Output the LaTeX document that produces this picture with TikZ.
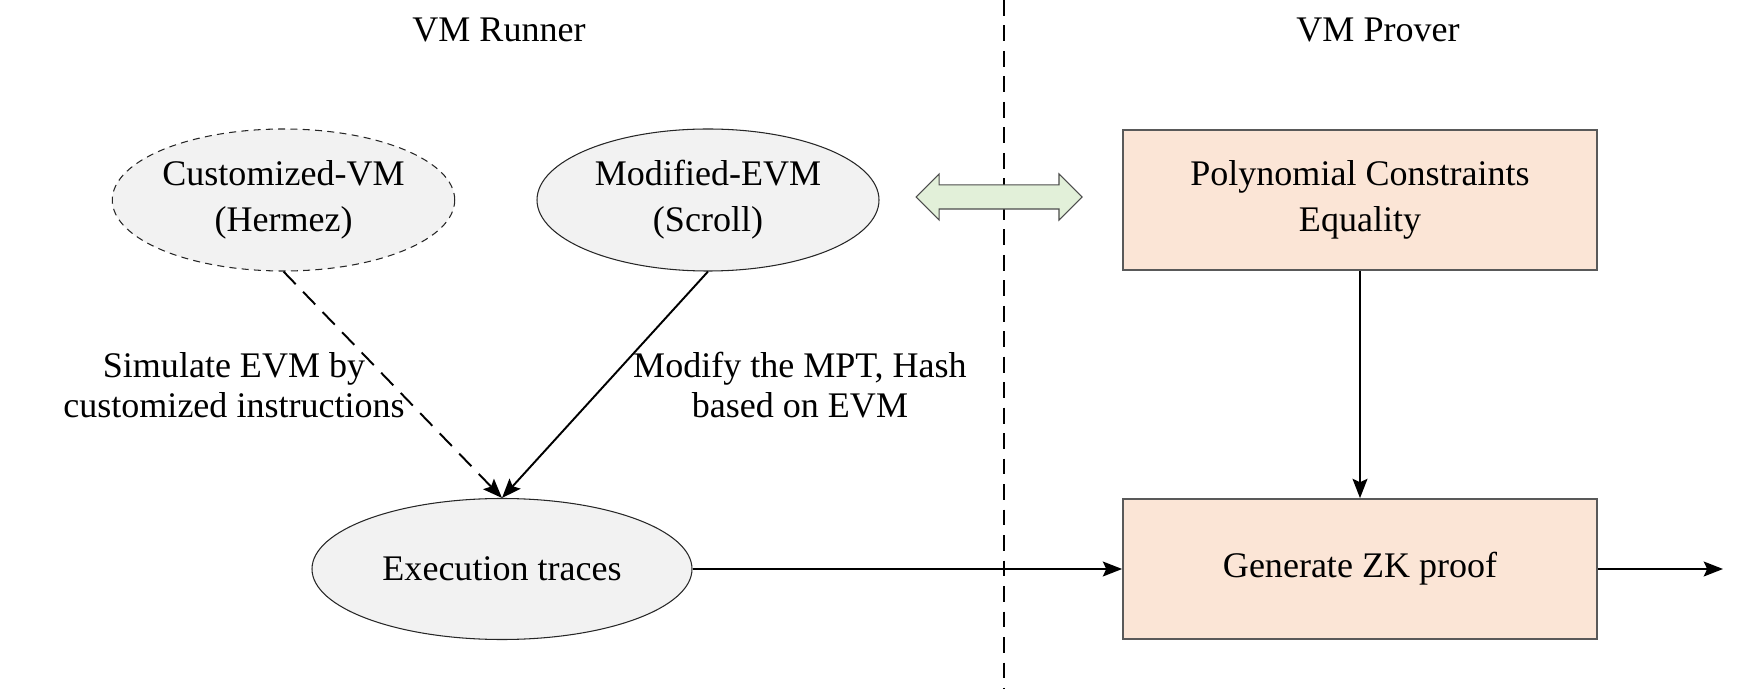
\documentclass[tikz,border=0pt]{standalone}
\usepackage{fontspec}
\setmainfont{Liberation Serif}
\usepackage{xcolor}
\usepackage{tikz}
\usetikzlibrary{shapes.geometric,shapes.arrows,arrows.meta}

\definecolor{vmgray}{HTML}{F2F2F2}
\definecolor{prvpeach}{HTML}{FBE5D6}
\definecolor{lnkgreen}{HTML}{E2F0D9}
\definecolor{boxline}{HTML}{595959}

\tikzset{
  vmell/.style={ellipse, draw=black!85, line width=0.6pt, fill=vmgray,
    minimum width=6.84cm, minimum height=2.84cm, inner sep=0pt, align=center},
  prvbox/.style={rectangle, draw=boxline, line width=1pt, fill=prvpeach,
    minimum width=9.48cm, minimum height=2.8cm, align=center},
  flow/.style={line width=1.1pt, -{Stealth[length=11pt,width=8.5pt,inset=2pt]}},
}

\begin{document}
\begin{tikzpicture}[font=\fontsize{20.5pt}{23pt}\selectfont]
                \useasboundingbox (0,0) rectangle (35.14,13.94);
                % two halves
                \coordinate (sepT) at (20.08,13.94);
                \coordinate (sepB) at (20.08,0.16);
                \draw [line width=1.1pt, dash pattern=on 9pt off 5.5pt] (sepT)--(sepB);
                \node (runner) at (9.98,13.34) {VM Runner};
                \node (prover) at (27.56,13.34) {VM Prover};
                % runner side
                \node [vmell, dash pattern=on 4pt off 3pt] (cvm) at (5.67,9.94) {Customized-VM\\[3pt](Hermez)};
                \node [vmell] (mevm) at (14.16,9.94) {Modified-EVM\\[3pt](Scroll)};
                \node [vmell, minimum width=7.6cm, minimum height=2.82cm] (exec) at (10.04,2.56) {Execution traces};
                \node [align=center] (simtxt) at (4.68,6.24) {Simulate EVM by\\customized instructions};
                \node [align=center] (modtxt) at (16.0,6.24) {Modify the MPT, Hash\\based on EVM};
                \draw [flow, dash pattern=on 10pt off 6pt] (cvm.south)--(exec.north);
                \draw [flow] (mevm.south)--(exec.north);
                % prover side
                \node [prvbox] (poly) at (27.2,9.94) {Polynomial Constraints\\[3pt]Equality};
                \node [prvbox] (gen) at (27.2,2.56) {Generate ZK proof};
                \coordinate (out) at (34.46,2.56);
                \draw [flow] (poly.south)--(gen.north);
                \draw [flow] (exec.east)--(gen.west);
                \draw [flow] (gen.east)--(out);
                % link between both
                \node [double arrow, draw=black!70, fill=lnkgreen, line width=0.6pt,
                  minimum height=3.32cm, inner xsep=0pt, inner ysep=0.23cm,
                  double arrow head extend=0.22cm] (link) at (19.98,10.0) {};
            \end{tikzpicture}
\end{document}
